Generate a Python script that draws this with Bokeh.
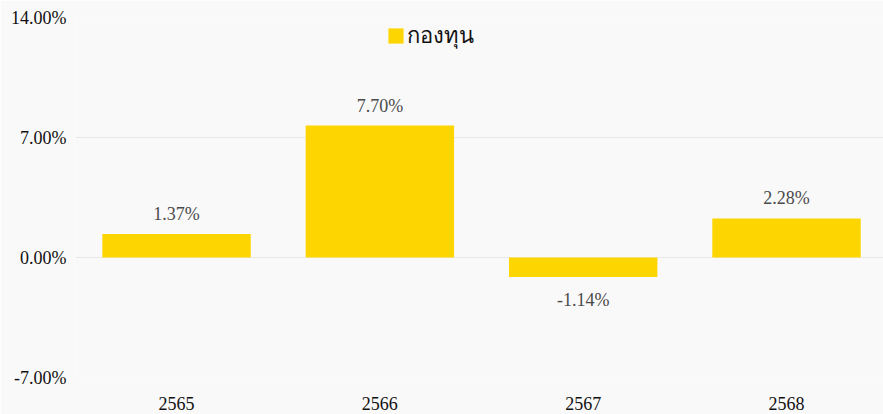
from bokeh.plotting import figure
from bokeh.models import Range1d, FixedTicker, PrintfTickFormatter, ColumnDataSource, Legend, LegendItem
from bokeh.embed import file_html
from bokeh.resources import INLINE
from bokeh.core.properties import value

years = ["2565", "2566", "2567", "2568"]
returns = [1.37, 7.70, -1.14, 2.28]
series_name = "กองทุน"
y_ticks = [-7, 0, 7, 14]

FONT = "Liberation Serif"
BAR = "#FDD500"
BG = "#F9F9F9"

xs = list(range(len(years)))
labels = [f"{v:.2f}%" for v in returns]
offs = [-20 if v >= 0 else 23 for v in returns]
src = ColumnDataSource(dict(x=xs, y=returns, lab=labels, off=offs))

p = figure(width=883, height=414, output_backend="svg", toolbar_location=None,
           x_range=Range1d(-0.497, 3.477), y_range=Range1d(-7, 14),
           min_border_left=75, min_border_right=0, min_border_top=17, min_border_bottom=37)
p.background_fill_color = BG
p.border_fill_color = BG
p.outline_line_color = None

r = p.vbar(x="x", top="y", bottom=0, width=0.73, source=src, fill_color=BAR, line_color=None)
p.text(x="x", y="y", text="lab", y_offset="off", source=src, text_align="center",
       text_baseline="middle", text_font=value(FONT), text_font_size="18px", text_color="#4A4A4A")

p.xgrid.grid_line_color = None
p.ygrid.grid_line_color = "#E8E8E8"
p.ygrid.ticker = FixedTicker(ticks=y_ticks)

p.yaxis.ticker = FixedTicker(ticks=y_ticks)
p.yaxis.formatter = PrintfTickFormatter(format="%.2f%%")
p.xaxis.ticker = FixedTicker(ticks=xs)
p.xaxis.major_label_overrides = {i: y for i, y in enumerate(years)}
for ax in (p.xaxis[0], p.yaxis[0]):
    ax.axis_line_color = None
    ax.major_tick_line_color = None
    ax.minor_tick_line_color = None
    ax.major_tick_out = 0
    ax.major_tick_in = 0
    ax.major_label_text_font = FONT
    ax.major_label_text_font_size = "18px"
    ax.major_label_text_color = "#111111"
p.yaxis.major_label_standoff = 9
p.xaxis.major_label_standoff = 19

legend = Legend(items=[LegendItem(label=series_name, renderers=[r])], location=(311, 324),
                glyph_width=19, glyph_height=19, label_text_font=FONT, label_text_font_size="22px",
                label_standoff=2, padding=0, margin=0, border_line_color=None,
                background_fill_alpha=0, label_text_color="#111111")
p.add_layout(legend, "center")

open("out.html", "w").write(file_html(p, INLINE))
